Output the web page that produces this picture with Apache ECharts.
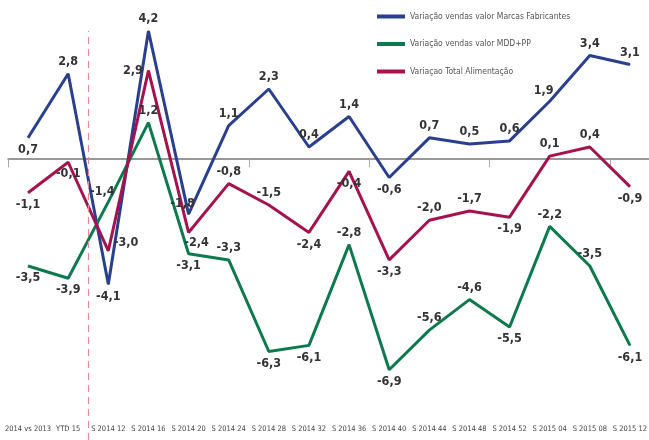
<!DOCTYPE html>
<html>
<head>
<meta charset="utf-8">
<script src="https://cdn.jsdelivr.net/npm/echarts@6/dist/echarts.min.js"></script>
<style>
  html, body { margin: 0; padding: 0; background: #fff; }
  #chart { width: 649px; height: 440px; }
</style>
</head>
<body>
<div id="chart"></div>
<script>
const categories = ["2014 vs 2013", "YTD 15", "S 2014 12", "S 2014 16", "S 2014 20", "S 2014 24", "S 2014 28", "S 2014 32",
  "S 2014 36", "S 2014 40", "S 2014 44", "S 2014 48", "S 2014 52", "S 2015 04", "S 2015 08", "S 2015 12"];

const marcas = [0.7, 2.8, -4.1, 4.2, -1.8, 1.1, 2.3, 0.4, 1.4, -0.6, 0.7, 0.5, 0.6, 1.9, 3.4, 3.1];
const mdd = [-3.5, -3.9, -1.4, 1.2, -3.1, -3.3, -6.3, -6.1, -2.8, -6.9, -5.6, -4.6, -5.5, -2.2, -3.5, -6.1];
const total = [-1.1, -0.1, -3.0, 2.9, -2.4, -0.8, -1.5, -2.4, -0.4, -3.3, -2.0, -1.7, -1.9, 0.1, 0.4, -0.9];

// where each value label sits (t = top, b = bottom, l = left, r = right)
const marcasPos = ["b", "t", "b", "t", "tl", "t", "t", "t", "t", "b", "t", "t", "t", "tl", "t", "t"];
const mddPos = ["b", "b", "tl", "t", "b", "t", "b", "b", "t", "b", "t", "t", "b", "t", "t", "b"];
const totalPos = ["b", "b", "r", "l", "br", "t", "t", "b", "b", "b", "t", "t", "b", "t", "t", "b"];

const font = "'DejaVu Sans Condensed', 'DejaVu Sans', sans-serif";

function fmt(v) {
  return v.toFixed(1).replace(".", ",");
}

function points(values, pos) {
  return values.map((v, i) => {
    const p = pos[i];
    let position = "top";
    let offset = [0, 0];
    if (p === "b") position = "bottom";
    if (p === "l") position = "left";
    if (p === "r") { position = "right"; offset = [0, -8]; }
    if (p === "tl") { position = "top"; offset = [-6, 2]; }
    if (p === "br") { position = "bottom"; offset = [8, -2]; }
    return { value: v, label: { position: position, offset: offset } };
  });
}

function lineSeries(name, color, values, pos) {
  return {
    name: name,
    type: "line",
    xAxisIndex: 0,
    data: points(values, pos),
    symbol: "circle",
    symbolSize: 1,
    clip: false,
    itemStyle: { color: color },
    lineStyle: { color: color, width: 3 },
    label: {
      show: true,
      formatter: (p) => fmt(p.value),
      fontFamily: font,
      fontSize: 12.5,
      fontWeight: "bold",
      color: "#333",
      distance: 5,
    },
  };
}

const chart = echarts.init(document.getElementById("chart"));
chart.setOption({
  animation: false,
  grid: { left: 8, width: 642, top: 31, bottom: 0, outerBoundsMode: "none" },
  legend: {
    orient: "vertical",
    left: 377,
    top: 12,
    padding: 0,
    icon: "rect",
    itemWidth: 28,
    itemHeight: 4,
    itemGap: 18.5,
    textStyle: { fontFamily: font, fontSize: 8.5, color: "#555" },
    data: ["Variação vendas valor Marcas Fabricantes", "Variação vendas valor MDD+PP", "Variaçao Total Alimentação"],
  },
  xAxis: [
    {
      type: "category",
      data: categories,
      position: "bottom",
      axisLine: { onZero: true, lineStyle: { color: "#777", width: 1.5 } },
      axisTick: { show: true, length: 8, lineStyle: { color: "#aaa" } },
      axisLabel: { show: false },
    },
    {
      type: "category",
      data: categories,
      position: "bottom",
      axisLine: { show: false },
      axisTick: { show: false },
      axisLabel: {
        inside: true,
        interval: 0,
        margin: 7,
        fontFamily: font,
        fontSize: 7.5,
        color: "#444",
      },
    },
    { type: "value", min: 0, max: 16, show: false },
  ],
  yAxis: {
    type: "value",
    min: -9.2,
    max: 4.2,
    show: false,
    splitLine: { show: false },
  },
  series: [
    lineSeries("Variação vendas valor Marcas Fabricantes", "#2a3f8d", marcas, marcasPos),
    lineSeries("Variação vendas valor MDD+PP", "#0d7a4e", mdd, mddPos),
    lineSeries("Variaçao Total Alimentação", "#a5134f", total, totalPos),
    {
      type: "line",
      xAxisIndex: 2,
      data: [],
      silent: true,
      markLine: {
        silent: true,
        symbol: "none",
        label: { show: false },
        lineStyle: { color: "#e58a98", type: [7, 5], width: 1.2 },
        data: [{ xAxis: 2 }],
      },
    },
  ],
});
</script>
</body>
</html>
